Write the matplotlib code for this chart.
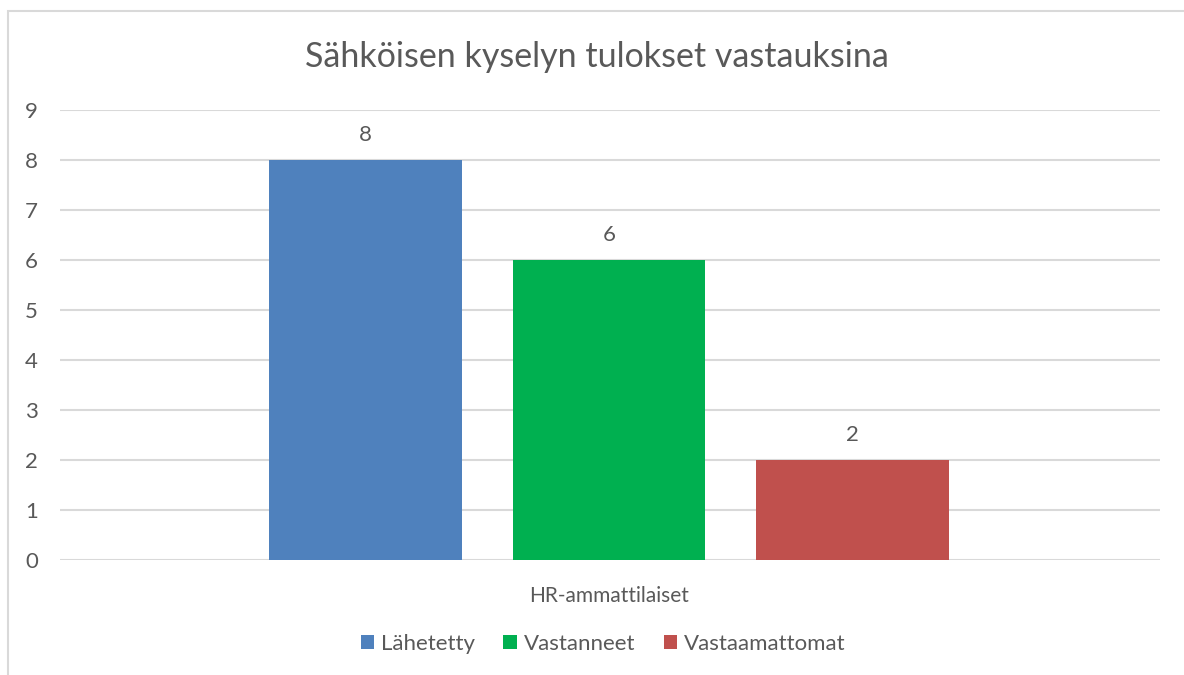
import matplotlib.pyplot as plt
from matplotlib.patches import Patch, Rectangle

plt.rcParams['font.family'] = ['Lato', 'DejaVu Sans']

title = "Sähköisen kyselyn tulokset vastauksina"
category = "HR-ammattilaiset"
series = ["Lähetetty", "Vastanneet", "Vastaamattomat"]
values = [8, 6, 2]
colors = ["#4f81bd", "#00b050", "#c0504d"]

text_color = "#595959"
grid_color = "#d9d9d9"

fig = plt.figure(figsize=(11.84, 6.75), dpi=100)
ax = fig.add_axes([60 / 1184, 1 - 560 / 675, 1100 / 1184, 450 / 675])

# outer chart border (image is cropped at right/bottom)
fig.patches.append(Rectangle((8 / 1184, -0.1), 1.2, 1.1 - 11 / 675,
                             transform=fig.transFigure, fill=False,
                             edgecolor=grid_color, linewidth=1.5))

positions = [-1, 0, 1]
bars = ax.bar(positions, values, width=0.79, color=colors, zorder=3)
for b, v in zip(bars, values):
    ax.annotate(str(v), (b.get_x() + b.get_width() / 2, v),
                xytext=(0, 18), textcoords="offset points",
                ha="center", va="center", fontsize=16, color=text_color)

ax.set_xlim(-2.255, 2.263)
ax.set_ylim(0, 9)
ax.set_yticks(range(0, 10))
ax.yaxis.grid(True, color=grid_color, linewidth=1.5, zorder=0)
ax.tick_params(axis="y", length=0, pad=16, labelsize=16, labelcolor=text_color)
ax.set_xticks([0])
ax.set_xticklabels([category])
ax.tick_params(axis="x", length=0, pad=19, labelsize=15, labelcolor=text_color)
for s in ax.spines.values():
    s.set_visible(False)

fig.text(597 / 1184, 1 - 57 / 675, title, ha="center", va="center",
         fontsize=24.5, color=text_color)

handles = [Patch(facecolor=c, label=s) for c, s in zip(colors, series)]
fig.legend(handles=handles, loc="center", bbox_to_anchor=(603 / 1184, 1 - 644 / 675),
           ncol=3, frameon=False, fontsize=16, labelcolor=text_color,
           handlelength=0.6, handleheight=0.6, handletextpad=0.3, columnspacing=1.3)

plt.savefig("out.png", dpi=100)
